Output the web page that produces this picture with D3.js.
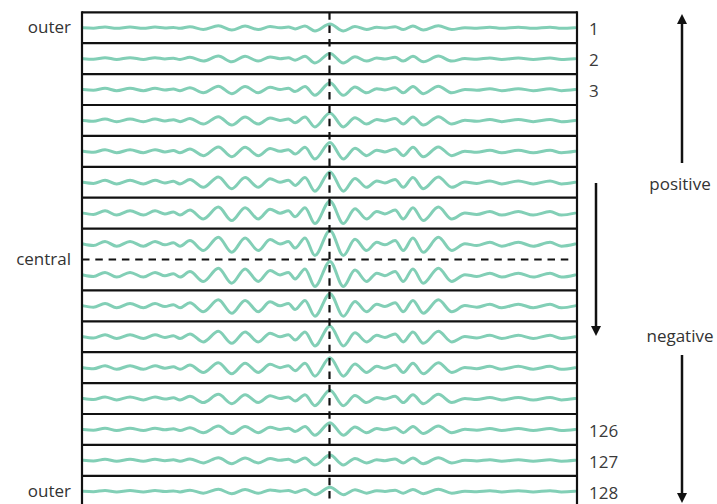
<!DOCTYPE html>
<html><head><meta charset="utf-8">
<script src="https://cdn.jsdelivr.net/npm/d3@7"></script>
<style>html,body{margin:0;padding:0;background:#fff;overflow:hidden}</style>
</head><body><svg id="chart" width="717" height="504"></svg>
<script>
// ---- data ----
const channelLabels = ["1","2","3","","","","","","","","","","","126","127","128"];
const rowGain = [0.28,0.38,0.5,0.56,0.66,0.78,0.9,1.0,1.0,0.9,0.8,0.74,0.62,0.5,0.4,0.3];
const waveTime = [-0.995,-0.954,-0.907,-0.860,-0.806,-0.752,-0.705,-0.665,-0.631,-0.604,-0.564,-0.510,-0.449,-0.395,-0.341,-0.288,-0.240,-0.200,-0.166,-0.139,-0.099,-0.059,0.002,0.056,0.103,0.150,0.191,0.224,0.265,0.298,0.337,0.379,0.440,0.494,0.547,0.595,0.648,0.696,0.763,0.823,0.891,0.937,0.992];
const waveAmp  = [0.0,-0.11,0.19,-0.16,0.19,-0.16,0.19,-0.06,0.09,-0.16,0.26,-0.48,0.50,-0.61,0.45,-0.48,0.33,0.0,0.19,-0.30,0.45,-0.85,1.0,-0.85,0.36,-0.48,0.13,-0.06,0.26,-0.48,0.45,-0.61,0.50,-0.48,0.02,-0.11,0.13,-0.16,0.13,-0.16,0.13,-0.16,0.0];
const sideLabels = ["outer","central","outer"];
const arrowLabels = ["positive","negative"];

// ---- layout ----
const svg = d3.select("#chart");
const gLeft = 82, gRight = 577, gTop = 12.3, rowH = 30.9;
const rowsIdx = channelLabels.map((d,i)=>i);
const y = d3.scaleBand().domain(rowsIdx).range([gTop, gTop + rowH*rowsIdx.length]).paddingInner(0).paddingOuter(0);
const x = d3.scaleLinear().domain([-1,1]).range([gLeft, gRight]);
const amp = d3.scaleLinear().domain([-1,1]).range([13.5,-13.5]);
const xMid = x(0);
const waveColor = "#82cfb6";
const ink = "#111";

const pts = waveTime.map((t,i)=>({t, a: waveAmp[i]}));

// waves
rowsIdx.forEach(r=>{
  const cy = y(r) + y.bandwidth()/2;
  const g = rowGain[r];
  const line = d3.line().x(d=>x(d.t)).y(d=>cy + amp(d.a*g)).curve(d3.curveMonotoneX);
  svg.append("path").attr("d", line(pts)).attr("fill","none")
    .attr("stroke", waveColor).attr("stroke-width",3).attr("stroke-linecap","round").attr("stroke-linejoin","round");
});

// row separators
const mid = rowsIdx.length/2;
rowsIdx.concat([rowsIdx.length]).forEach(k=>{
  const yy = gTop + rowH*k;
  const l = svg.append("line").attr("x1",gLeft).attr("x2", k===mid ? gRight-5 : gRight).attr("y1",yy).attr("y2",yy)
    .attr("stroke",ink).attr("stroke-width",2.2);
  if (k===mid) l.attr("stroke-dasharray","7.5,5.8");
});
// left/right borders
[gLeft,gRight].forEach(xx=>{
  svg.append("line").attr("x1",xx).attr("x2",xx).attr("y1",gTop-1.1).attr("y2",504)
    .attr("stroke",ink).attr("stroke-width",2.2);
});
// vertical dashed centre line
svg.append("line").attr("x1",xMid).attr("x2",xMid).attr("y1",gTop).attr("y2",504)
  .attr("stroke",ink).attr("stroke-width",2.2).attr("stroke-dasharray","7.5,5.8");

// text
const font = "'Open Sans', 'DejaVu Sans', sans-serif";
const leftY = [y(0)+y.bandwidth()/2, gTop + rowH*mid, y(rowsIdx.length-1)+y.bandwidth()/2];
sideLabels.forEach((s,i)=>{
  svg.append("text").attr("x",71).attr("y",leftY[i]).attr("dy","0.32em")
    .attr("text-anchor","end").attr("font-family",font).attr("font-size",17).attr("fill","#333").text(s);
});
rowsIdx.forEach(r=>{
  if(!channelLabels[r]) return;
  svg.append("text").attr("x",589).attr("y",y(r)+y.bandwidth()/2+1.5).attr("dy","0.35em")
    .attr("font-family",font).attr("font-size",17).attr("fill","#3a3a3a").text(channelLabels[r]);
});
const arrowTextY = [185, 337];
arrowLabels.forEach((s,i)=>{
  svg.append("text").attr("x",680).attr("y",arrowTextY[i]).attr("dy","0.32em")
    .attr("text-anchor","middle").attr("font-family",font).attr("font-size",17).attr("fill","#333").text(s);
});

// arrows
function arrow(xx, y0, y1){
  const dir = y1 > y0 ? 1 : -1;
  svg.append("line").attr("x1",xx).attr("x2",xx).attr("y1",y0).attr("y2",y1 - dir*8)
    .attr("stroke",ink).attr("stroke-width",2.5);
  svg.append("path").attr("d",`M${xx},${y1} L${xx-5},${y1-dir*10} L${xx+5},${y1-dir*10} Z`).attr("fill",ink);
}
arrow(682, 163, 14);
arrow(596, 183, 336);
arrow(682, 355, 503);
</script></body></html>
